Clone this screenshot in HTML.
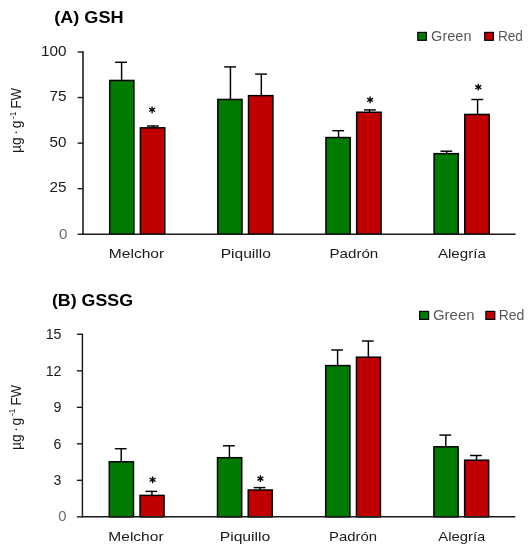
<!DOCTYPE html>
<html><head><meta charset="utf-8"><title>GSH / GSSG</title>
<style>
html,body{margin:0;padding:0;background:#fff;}
body{width:531px;height:550px;overflow:hidden;}
svg{display:block;filter:blur(0.4px);font-family:"Liberation Sans",sans-serif;}
</style></head><body>
<svg width="531" height="550" viewBox="0 0 531 550">
<rect x="0" y="0" width="531" height="550" fill="#fff"/>
<line x1="121.60" y1="62.30" x2="121.60" y2="80.20" stroke="#000" stroke-width="1.45"/>
<line x1="115.10" y1="62.30" x2="126.90" y2="62.30" stroke="#000" stroke-width="1.45"/>
<line x1="153.20" y1="126.00" x2="153.20" y2="127.60" stroke="#000" stroke-width="1.45"/>
<line x1="147.00" y1="126.00" x2="158.80" y2="126.00" stroke="#000" stroke-width="1.45"/>
<rect x="109.70" y="80.45" width="24.20" height="153.75" fill="#007a00" stroke="#000" stroke-width="1.5"/>
<rect x="140.40" y="127.85" width="24.40" height="106.35" fill="#c00000" stroke="#000" stroke-width="1.5"/>
<line x1="230.43" y1="66.90" x2="230.43" y2="99.20" stroke="#000" stroke-width="1.45"/>
<line x1="224.18" y1="66.90" x2="235.98" y2="66.90" stroke="#000" stroke-width="1.45"/>
<line x1="261.33" y1="74.10" x2="261.33" y2="95.40" stroke="#000" stroke-width="1.45"/>
<line x1="255.13" y1="74.10" x2="266.93" y2="74.10" stroke="#000" stroke-width="1.45"/>
<rect x="217.83" y="99.45" width="24.20" height="134.75" fill="#007a00" stroke="#000" stroke-width="1.5"/>
<rect x="248.53" y="95.65" width="24.40" height="138.55" fill="#c00000" stroke="#000" stroke-width="1.5"/>
<line x1="338.56" y1="130.70" x2="338.56" y2="137.30" stroke="#000" stroke-width="1.45"/>
<line x1="332.31" y1="130.70" x2="344.11" y2="130.70" stroke="#000" stroke-width="1.45"/>
<line x1="369.46" y1="109.90" x2="369.46" y2="112.00" stroke="#000" stroke-width="1.45"/>
<line x1="363.96" y1="109.90" x2="375.76" y2="109.90" stroke="#000" stroke-width="1.45"/>
<rect x="325.96" y="137.55" width="24.20" height="96.65" fill="#007a00" stroke="#000" stroke-width="1.5"/>
<rect x="356.66" y="112.25" width="24.40" height="121.95" fill="#c00000" stroke="#000" stroke-width="1.5"/>
<line x1="446.69" y1="151.20" x2="446.69" y2="153.40" stroke="#000" stroke-width="1.45"/>
<line x1="440.44" y1="151.20" x2="452.24" y2="151.20" stroke="#000" stroke-width="1.45"/>
<line x1="477.59" y1="99.50" x2="477.59" y2="114.20" stroke="#000" stroke-width="1.45"/>
<line x1="471.39" y1="99.50" x2="483.19" y2="99.50" stroke="#000" stroke-width="1.45"/>
<rect x="434.09" y="153.65" width="24.20" height="80.55" fill="#007a00" stroke="#000" stroke-width="1.5"/>
<rect x="464.79" y="114.45" width="24.40" height="119.75" fill="#c00000" stroke="#000" stroke-width="1.5"/>
<line x1="83.00" y1="51.30" x2="83.00" y2="234.90" stroke="#2b2b2b" stroke-width="1.7"/>
<line x1="82.10" y1="234.20" x2="515.60" y2="234.20" stroke="#1a1a1a" stroke-width="1.55"/>
<line x1="77.60" y1="52.00" x2="83.00" y2="52.00" stroke="#1a1a1a" stroke-width="1.4"/>
<text x="66.50" y="55.70" font-size="14.3" fill="#1a1a1a" text-anchor="end" font-weight="normal" textLength="25.5" lengthAdjust="spacingAndGlyphs">100</text>
<line x1="77.60" y1="97.55" x2="83.00" y2="97.55" stroke="#1a1a1a" stroke-width="1.4"/>
<text x="66.50" y="101.25" font-size="14.3" fill="#1a1a1a" text-anchor="end" font-weight="normal" textLength="17.0" lengthAdjust="spacingAndGlyphs">75</text>
<line x1="77.60" y1="143.10" x2="83.00" y2="143.10" stroke="#1a1a1a" stroke-width="1.4"/>
<text x="66.50" y="146.80" font-size="14.3" fill="#1a1a1a" text-anchor="end" font-weight="normal" textLength="17.0" lengthAdjust="spacingAndGlyphs">50</text>
<line x1="77.60" y1="188.65" x2="83.00" y2="188.65" stroke="#1a1a1a" stroke-width="1.4"/>
<text x="66.50" y="192.35" font-size="14.3" fill="#1a1a1a" text-anchor="end" font-weight="normal" textLength="17.0" lengthAdjust="spacingAndGlyphs">25</text>
<line x1="77.60" y1="234.20" x2="83.00" y2="234.20" stroke="#1a1a1a" stroke-width="1.4"/>
<text x="67.40" y="238.50" font-size="14.5" fill="#6e6e6e" text-anchor="end" font-weight="normal" textLength="8.4" lengthAdjust="spacingAndGlyphs">0</text>
<line x1="152.10" y1="106.40" x2="152.10" y2="113.20" stroke="#000" stroke-width="1.4"/>
<line x1="149.16" y1="108.10" x2="155.04" y2="111.50" stroke="#000" stroke-width="1.4"/>
<line x1="155.04" y1="108.10" x2="149.16" y2="111.50" stroke="#000" stroke-width="1.4"/>
<line x1="370.10" y1="96.40" x2="370.10" y2="103.20" stroke="#000" stroke-width="1.4"/>
<line x1="367.16" y1="98.10" x2="373.04" y2="101.50" stroke="#000" stroke-width="1.4"/>
<line x1="373.04" y1="98.10" x2="367.16" y2="101.50" stroke="#000" stroke-width="1.4"/>
<line x1="478.30" y1="83.70" x2="478.30" y2="90.50" stroke="#000" stroke-width="1.4"/>
<line x1="475.36" y1="85.40" x2="481.24" y2="88.80" stroke="#000" stroke-width="1.4"/>
<line x1="481.24" y1="85.40" x2="475.36" y2="88.80" stroke="#000" stroke-width="1.4"/>
<text x="108.80" y="258.30" font-size="13.6" fill="#1a1a1a" text-anchor="start" font-weight="normal" textLength="55.4" lengthAdjust="spacingAndGlyphs">Melchor</text>
<text x="220.70" y="258.30" font-size="13.6" fill="#1a1a1a" text-anchor="start" font-weight="normal" textLength="50.2" lengthAdjust="spacingAndGlyphs">Piquillo</text>
<text x="329.50" y="258.30" font-size="13.6" fill="#1a1a1a" text-anchor="start" font-weight="normal" textLength="48.8" lengthAdjust="spacingAndGlyphs">Padrón</text>
<text x="437.90" y="258.30" font-size="13.6" fill="#1a1a1a" text-anchor="start" font-weight="normal" textLength="47.9" lengthAdjust="spacingAndGlyphs">Alegría</text>
<text x="54.20" y="22.75" font-size="16.6" fill="#000" text-anchor="start" font-weight="bold" textLength="69.4" lengthAdjust="spacingAndGlyphs">(A) GSH</text>
<rect x="417.80" y="32.40" width="8.60" height="7.90" fill="#007a00" stroke="#000" stroke-width="1.2"/>
<text x="431.10" y="40.80" font-size="14.8" fill="#595959" text-anchor="start" font-weight="normal" textLength="40.4" lengthAdjust="spacingAndGlyphs">Green</text>
<rect x="484.70" y="32.40" width="8.70" height="7.90" fill="#c00000" stroke="#000" stroke-width="1.2"/>
<text x="497.90" y="40.80" font-size="14.8" fill="#595959" text-anchor="start" font-weight="normal" textLength="25.0" lengthAdjust="spacingAndGlyphs">Red</text>
<g transform="translate(21.3,152.3) rotate(-90)" font-size="14" fill="#1a1a1a"><text x="-0.6" y="0" textLength="15.6" lengthAdjust="spacingAndGlyphs">µg</text><text x="17.6" y="-1">·</text><text x="24.0" y="0">g</text><text x="33.4" y="-5.8" font-size="9" textLength="7.4" lengthAdjust="spacingAndGlyphs">-1</text><text x="43.8" y="0" textLength="20.6" lengthAdjust="spacingAndGlyphs">FW</text></g>
<line x1="121.20" y1="448.70" x2="121.20" y2="461.40" stroke="#000" stroke-width="1.45"/>
<line x1="114.80" y1="448.70" x2="126.60" y2="448.70" stroke="#000" stroke-width="1.45"/>
<line x1="151.95" y1="491.40" x2="151.95" y2="495.00" stroke="#000" stroke-width="1.45"/>
<line x1="145.45" y1="491.40" x2="157.25" y2="491.40" stroke="#000" stroke-width="1.45"/>
<rect x="109.30" y="461.80" width="24.20" height="55.05" fill="#007a00" stroke="#000" stroke-width="1.5"/>
<rect x="140.05" y="495.40" width="24.00" height="21.45" fill="#c00000" stroke="#000" stroke-width="1.5"/>
<line x1="229.40" y1="445.80" x2="229.40" y2="457.30" stroke="#000" stroke-width="1.45"/>
<line x1="223.00" y1="445.80" x2="234.80" y2="445.80" stroke="#000" stroke-width="1.45"/>
<line x1="260.15" y1="487.60" x2="260.15" y2="489.60" stroke="#000" stroke-width="1.45"/>
<line x1="253.65" y1="487.60" x2="265.45" y2="487.60" stroke="#000" stroke-width="1.45"/>
<rect x="217.50" y="457.70" width="24.20" height="59.15" fill="#007a00" stroke="#000" stroke-width="1.5"/>
<rect x="248.25" y="490.00" width="24.00" height="26.85" fill="#c00000" stroke="#000" stroke-width="1.5"/>
<line x1="337.60" y1="350.00" x2="337.60" y2="365.20" stroke="#000" stroke-width="1.45"/>
<line x1="331.20" y1="350.00" x2="343.00" y2="350.00" stroke="#000" stroke-width="1.45"/>
<line x1="368.35" y1="341.00" x2="368.35" y2="356.80" stroke="#000" stroke-width="1.45"/>
<line x1="361.85" y1="341.00" x2="373.65" y2="341.00" stroke="#000" stroke-width="1.45"/>
<rect x="325.70" y="365.60" width="24.20" height="151.25" fill="#007a00" stroke="#000" stroke-width="1.5"/>
<rect x="356.45" y="357.20" width="24.00" height="159.65" fill="#c00000" stroke="#000" stroke-width="1.5"/>
<line x1="445.80" y1="435.10" x2="445.80" y2="446.40" stroke="#000" stroke-width="1.45"/>
<line x1="439.40" y1="435.10" x2="451.20" y2="435.10" stroke="#000" stroke-width="1.45"/>
<line x1="476.55" y1="455.50" x2="476.55" y2="459.80" stroke="#000" stroke-width="1.45"/>
<line x1="470.05" y1="455.50" x2="481.85" y2="455.50" stroke="#000" stroke-width="1.45"/>
<rect x="433.90" y="446.80" width="24.20" height="70.05" fill="#007a00" stroke="#000" stroke-width="1.5"/>
<rect x="464.65" y="460.20" width="24.00" height="56.65" fill="#c00000" stroke="#000" stroke-width="1.5"/>
<line x1="82.40" y1="333.60" x2="82.40" y2="517.55" stroke="#1a1a1a" stroke-width="1.45"/>
<line x1="81.70" y1="516.85" x2="515.30" y2="516.85" stroke="#1a1a1a" stroke-width="1.5"/>
<line x1="76.90" y1="334.30" x2="82.40" y2="334.30" stroke="#1a1a1a" stroke-width="1.4"/>
<text x="61.50" y="339.00" font-size="14" fill="#1a1a1a" text-anchor="end" font-weight="normal" textLength="15.8" lengthAdjust="spacingAndGlyphs">15</text>
<line x1="76.90" y1="370.81" x2="82.40" y2="370.81" stroke="#1a1a1a" stroke-width="1.4"/>
<text x="61.50" y="375.51" font-size="14" fill="#1a1a1a" text-anchor="end" font-weight="normal" textLength="15.8" lengthAdjust="spacingAndGlyphs">12</text>
<line x1="76.90" y1="407.32" x2="82.40" y2="407.32" stroke="#1a1a1a" stroke-width="1.4"/>
<text x="61.50" y="412.02" font-size="14" fill="#1a1a1a" text-anchor="end" font-weight="normal" textLength="7.9" lengthAdjust="spacingAndGlyphs">9</text>
<line x1="76.90" y1="443.83" x2="82.40" y2="443.83" stroke="#1a1a1a" stroke-width="1.4"/>
<text x="61.50" y="448.53" font-size="14" fill="#1a1a1a" text-anchor="end" font-weight="normal" textLength="7.9" lengthAdjust="spacingAndGlyphs">6</text>
<line x1="76.90" y1="480.34" x2="82.40" y2="480.34" stroke="#1a1a1a" stroke-width="1.4"/>
<text x="61.50" y="485.04" font-size="14" fill="#1a1a1a" text-anchor="end" font-weight="normal" textLength="7.9" lengthAdjust="spacingAndGlyphs">3</text>
<line x1="76.90" y1="516.85" x2="82.40" y2="516.85" stroke="#1a1a1a" stroke-width="1.4"/>
<text x="66.40" y="521.45" font-size="14.5" fill="#6e6e6e" text-anchor="end" font-weight="normal" textLength="8.2" lengthAdjust="spacingAndGlyphs">0</text>
<line x1="152.60" y1="476.40" x2="152.60" y2="483.20" stroke="#000" stroke-width="1.4"/>
<line x1="149.66" y1="478.10" x2="155.54" y2="481.50" stroke="#000" stroke-width="1.4"/>
<line x1="155.54" y1="478.10" x2="149.66" y2="481.50" stroke="#000" stroke-width="1.4"/>
<line x1="260.40" y1="475.20" x2="260.40" y2="482.00" stroke="#000" stroke-width="1.4"/>
<line x1="257.46" y1="476.90" x2="263.34" y2="480.30" stroke="#000" stroke-width="1.4"/>
<line x1="263.34" y1="476.90" x2="257.46" y2="480.30" stroke="#000" stroke-width="1.4"/>
<text x="108.30" y="541.00" font-size="13.6" fill="#1a1a1a" text-anchor="start" font-weight="normal" textLength="55.3" lengthAdjust="spacingAndGlyphs">Melchor</text>
<text x="219.70" y="541.00" font-size="13.6" fill="#1a1a1a" text-anchor="start" font-weight="normal" textLength="50.6" lengthAdjust="spacingAndGlyphs">Piquillo</text>
<text x="329.00" y="541.00" font-size="13.6" fill="#1a1a1a" text-anchor="start" font-weight="normal" textLength="48.1" lengthAdjust="spacingAndGlyphs">Padrón</text>
<text x="438.30" y="541.00" font-size="13.6" fill="#1a1a1a" text-anchor="start" font-weight="normal" textLength="47.0" lengthAdjust="spacingAndGlyphs">Alegría</text>
<text x="51.90" y="305.50" font-size="16.6" fill="#000" text-anchor="start" font-weight="bold" textLength="81.1" lengthAdjust="spacingAndGlyphs">(B) GSSG</text>
<rect x="419.60" y="311.40" width="9.00" height="8.00" fill="#007a00" stroke="#000" stroke-width="1.2"/>
<text x="433.00" y="319.80" font-size="14.8" fill="#595959" text-anchor="start" font-weight="normal" textLength="41.5" lengthAdjust="spacingAndGlyphs">Green</text>
<rect x="485.90" y="311.40" width="8.90" height="8.00" fill="#c00000" stroke="#000" stroke-width="1.2"/>
<text x="498.70" y="319.80" font-size="14.8" fill="#595959" text-anchor="start" font-weight="normal" textLength="25.7" lengthAdjust="spacingAndGlyphs">Red</text>
<g transform="translate(20.8,449.4) rotate(-90)" font-size="14" fill="#1a1a1a"><text x="-0.6" y="0" textLength="15.6" lengthAdjust="spacingAndGlyphs">µg</text><text x="17.6" y="-1">·</text><text x="24.0" y="0">g</text><text x="33.4" y="-5.8" font-size="9" textLength="7.4" lengthAdjust="spacingAndGlyphs">-1</text><text x="43.8" y="0" textLength="20.6" lengthAdjust="spacingAndGlyphs">FW</text></g>
</svg>
</body></html>
